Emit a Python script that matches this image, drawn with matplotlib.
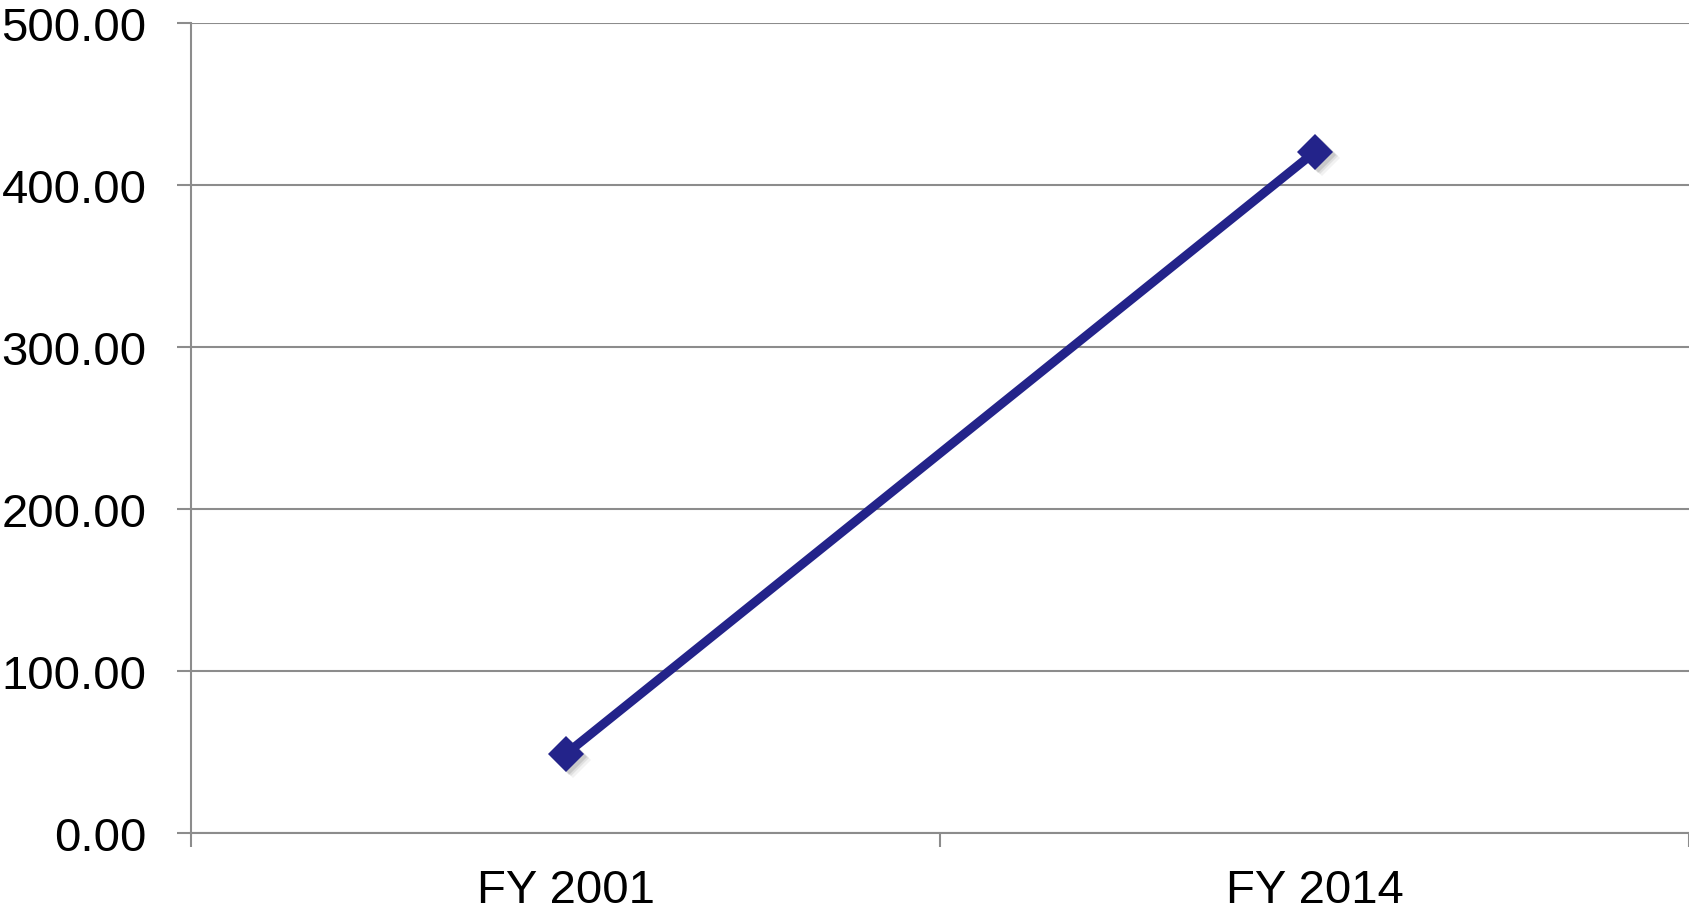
import matplotlib.pyplot as plt

categories = ["FY 2001", "FY 2014"]
values = [48.6, 420.4]
y_ticks = [0, 100, 200, 300, 400, 500]

plt.rcParams['font.family'] = ['Liberation Sans', 'DejaVu Sans']

fig = plt.figure(figsize=(16.9, 9.12), dpi=100)
ax = fig.add_axes([0.113, 0.0855, 0.8865, 0.888])

x = list(range(1, len(categories) + 1))
line_col = "#23238a"
grid_col = "#8c8c8c"

# soft shadow under markers
for dx, dy, a in [(0.004, -1.5, 0.10), (0.007, -2.5, 0.07), (0.010, -3.5, 0.05)]:
    ax.plot([v + dx for v in x], [v + dy for v in values], linestyle="none", marker="D",
            markersize=18, color="#000000", alpha=a, markeredgewidth=0, zorder=2)
ax.plot(x, values, color=line_col, linewidth=6.5, marker="D", markersize=18,
        markerfacecolor=line_col, markeredgecolor=line_col, markeredgewidth=0, zorder=3)

ax.set_xlim(0.5, len(categories) + 0.5)
ax.set_ylim(0, 500)
ax.set_yticks(y_ticks)
ax.set_yticklabels([f"{v:.2f}" for v in y_ticks])
ax.yaxis.grid(True, color=grid_col, linewidth=1.5)
ax.set_axisbelow(True)

ax.set_xticks([i + 0.5 for i in range(len(categories) + 1)])
ax.set_xticklabels([])
ax.set_xticks(x, minor=True)
ax.set_xticklabels(categories, minor=True)
ax.tick_params(axis="x", which="major", length=10, width=1.5, color=grid_col)
ax.tick_params(axis="x", which="minor", length=0, pad=25, labelsize=34)
ax.tick_params(axis="y", length=10, width=1.5, color=grid_col, pad=22, labelsize=34)

for s in ["top", "right"]:
    ax.spines[s].set_visible(False)
for s in ["left", "bottom"]:
    ax.spines[s].set_color(grid_col)
    ax.spines[s].set_linewidth(1.5)

fig.savefig("out.png", dpi=100)
